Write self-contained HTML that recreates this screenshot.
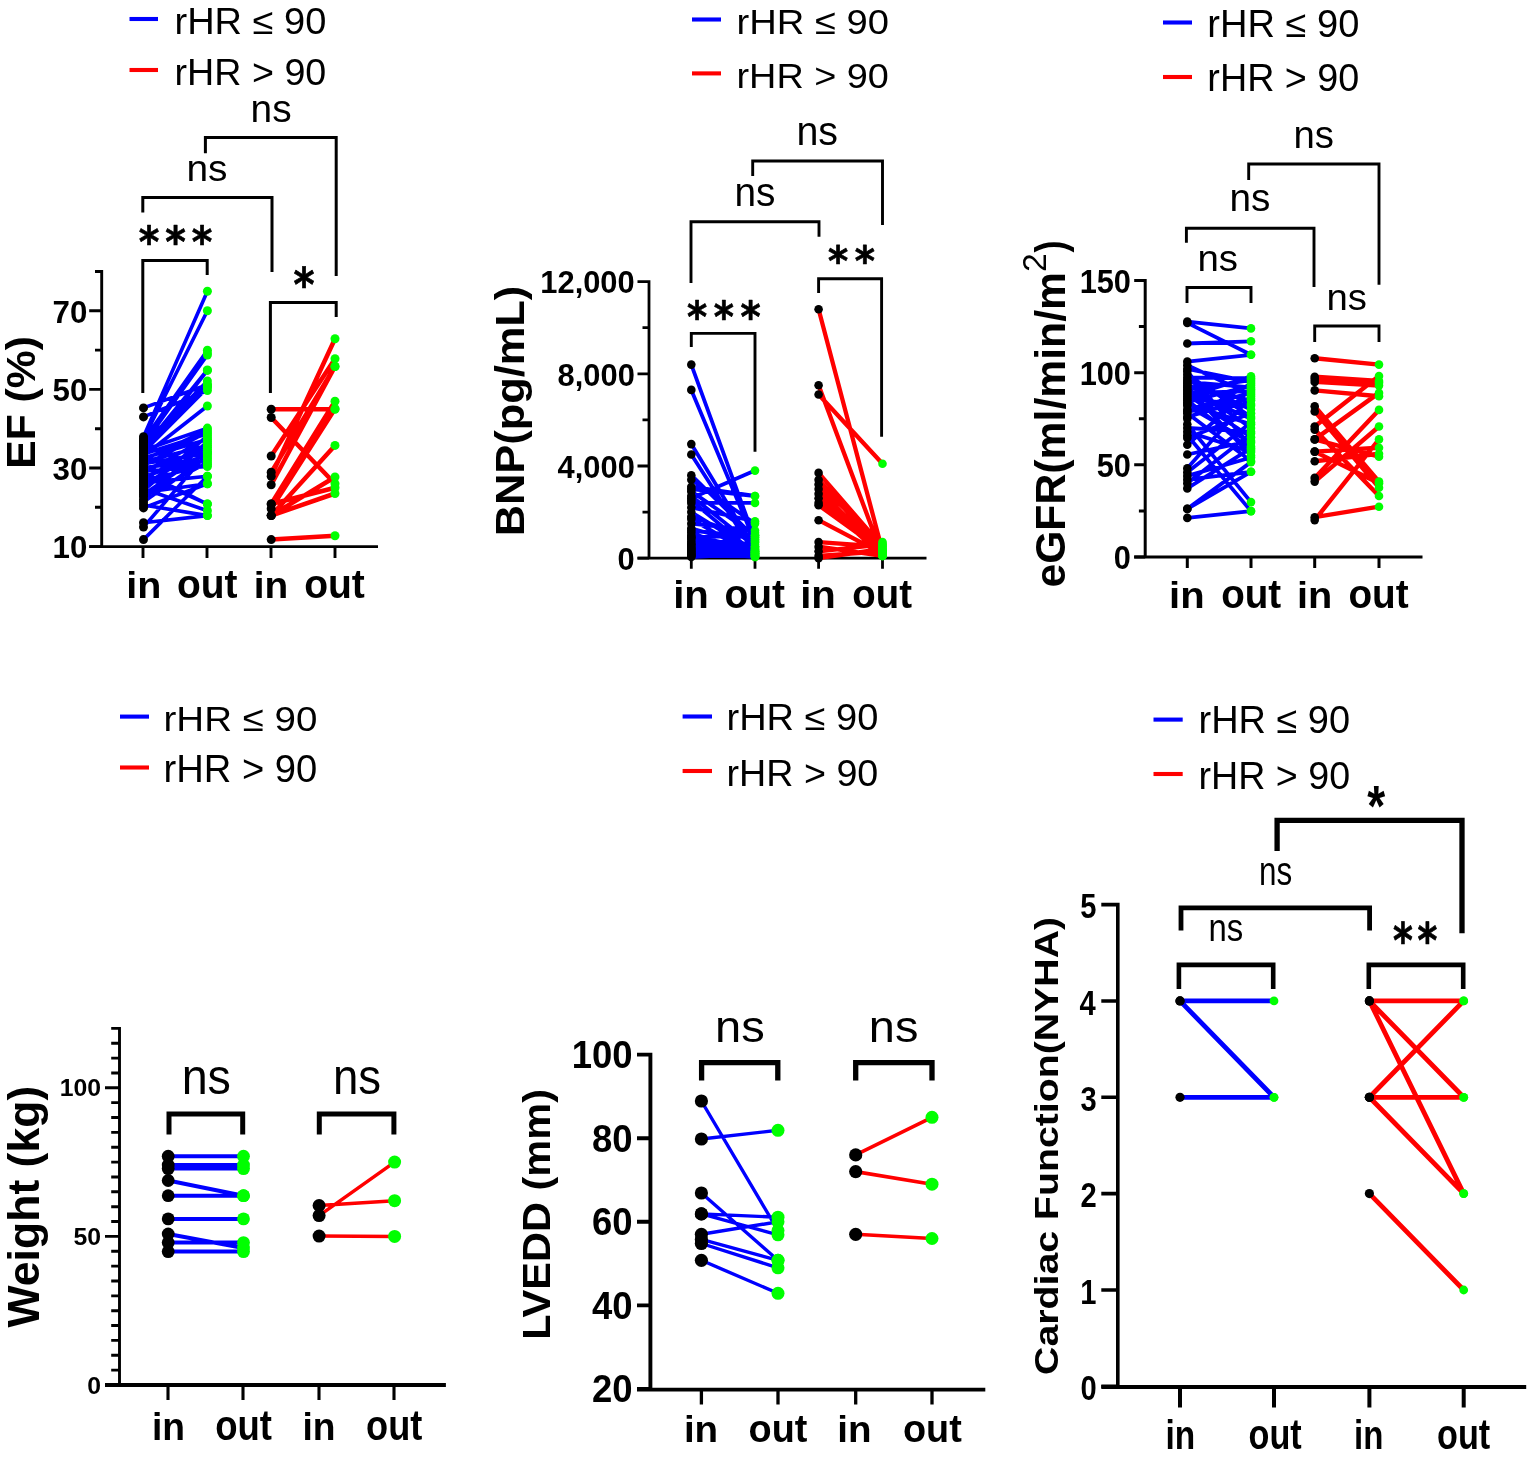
<!DOCTYPE html>
<html><head><meta charset="utf-8"><title>Figure</title>
<style>html,body{margin:0;padding:0;background:#fff;}svg{display:block;}</style>
</head><body><div id="fig">
<svg width="1535" height="1457" viewBox="0 0 1535 1457">
<rect width="1535" height="1457" fill="#fff"/>
<path d="M129.5,19H158" fill="none" stroke="#0000ff" stroke-width="4.1" stroke-linecap="butt" stroke-linejoin="miter"/>
<path d="M129.5,70H158" fill="none" stroke="#ff0000" stroke-width="4.1" stroke-linecap="butt" stroke-linejoin="miter"/>
<text x="174.53" y="33.63" font-family='"Liberation Sans", Arial, sans-serif' font-weight="normal" font-size="36.62" textLength="151.77" lengthAdjust="spacingAndGlyphs">rHR ≤ 90</text>
<text x="174.55" y="84.63" font-family='"Liberation Sans", Arial, sans-serif' font-weight="normal" font-size="36.62" textLength="151.74" lengthAdjust="spacingAndGlyphs">rHR &gt; 90</text>
<path d="M101.7,270.05V546.6M89.2,546.6H101.7M95.0,507.3H101.7M89.2,468.0H101.7M95.0,428.70000000000005H101.7M89.2,389.4H101.7M95.0,350.1H101.7M89.2,310.8H101.7M95.0,271.5H101.7" fill="none" stroke="#000" stroke-width="2.9" stroke-linecap="butt" stroke-linejoin="miter"/>
<path d="M89.2,546.6H378" fill="none" stroke="#000" stroke-width="2.9" stroke-linecap="butt" stroke-linejoin="miter"/>
<path d="M143,546.6V558M207,546.6V558M271,546.6V558M335,546.6V558" fill="none" stroke="#000" stroke-width="2.9" stroke-linecap="butt" stroke-linejoin="miter"/>
<text x="52.62" y="558.38" font-family='"Liberation Sans", Arial, sans-serif' font-weight="bold" font-size="32.25" textLength="34.80" lengthAdjust="spacingAndGlyphs">10</text>
<text x="52.62" y="479.78" font-family='"Liberation Sans", Arial, sans-serif' font-weight="bold" font-size="32.25" textLength="34.80" lengthAdjust="spacingAndGlyphs">30</text>
<text x="52.62" y="401.18" font-family='"Liberation Sans", Arial, sans-serif' font-weight="bold" font-size="32.25" textLength="34.80" lengthAdjust="spacingAndGlyphs">50</text>
<text x="52.62" y="322.58" font-family='"Liberation Sans", Arial, sans-serif' font-weight="bold" font-size="32.25" textLength="34.80" lengthAdjust="spacingAndGlyphs">70</text>
<text transform="rotate(-90)" x="-468.77" y="35.47" font-family='"Liberation Sans", Arial, sans-serif' font-weight="bold" font-size="40.64" textLength="132.73" lengthAdjust="spacingAndGlyphs">EF (%)</text>
<text x="126.24" y="597.50" font-family='"Liberation Sans", Arial, sans-serif' font-weight="bold" font-size="37.79" textLength="35.08" lengthAdjust="spacingAndGlyphs">in</text>
<text x="177.04" y="597.50" font-family='"Liberation Sans", Arial, sans-serif' font-weight="bold" font-size="39.85" textLength="60.53" lengthAdjust="spacingAndGlyphs">out</text>
<text x="253.78" y="597.50" font-family='"Liberation Sans", Arial, sans-serif' font-weight="bold" font-size="37.79" textLength="34.49" lengthAdjust="spacingAndGlyphs">in</text>
<text x="304.14" y="597.50" font-family='"Liberation Sans", Arial, sans-serif' font-weight="bold" font-size="39.85" textLength="60.74" lengthAdjust="spacingAndGlyphs">out</text>
<path d="M205.4,153.2V137.6H336.2V276" fill="none" stroke="#000" stroke-width="3.0" stroke-linecap="butt" stroke-linejoin="miter"/>
<path d="M142.8,212.5V197.5H272V272" fill="none" stroke="#000" stroke-width="3.0" stroke-linecap="butt" stroke-linejoin="miter"/>
<path d="M142.8,393V260.5H207.2V275" fill="none" stroke="#000" stroke-width="3.0" stroke-linecap="butt" stroke-linejoin="miter"/>
<path d="M270.4,393V302.5H336.2V317" fill="none" stroke="#000" stroke-width="3.0" stroke-linecap="butt" stroke-linejoin="miter"/>
<text x="250.57" y="122.02" font-family='"Liberation Sans", Arial, sans-serif' font-weight="normal" font-size="38.36" textLength="41.03" lengthAdjust="spacingAndGlyphs">ns</text>
<text x="186.47" y="181.02" font-family='"Liberation Sans", Arial, sans-serif' font-weight="normal" font-size="37.64" textLength="41.03" lengthAdjust="spacingAndGlyphs">ns</text>
<text x="138.66" y="256.96" font-family='"DejaVu Sans", sans-serif' font-weight="bold" font-size="42.58" textLength="20.59" lengthAdjust="spacingAndGlyphs" stroke="#000" stroke-width="0.7" stroke-linejoin="round">*</text>
<text x="165.21" y="256.96" font-family='"DejaVu Sans", sans-serif' font-weight="bold" font-size="42.58" textLength="20.59" lengthAdjust="spacingAndGlyphs" stroke="#000" stroke-width="0.7" stroke-linejoin="round">*</text>
<text x="191.76" y="256.96" font-family='"DejaVu Sans", sans-serif' font-weight="bold" font-size="42.58" textLength="20.59" lengthAdjust="spacingAndGlyphs" stroke="#000" stroke-width="0.7" stroke-linejoin="round">*</text>
<text x="293.55" y="301.13" font-family='"DejaVu Sans", sans-serif' font-weight="bold" font-size="45.38" textLength="21.03" lengthAdjust="spacingAndGlyphs" stroke="#000" stroke-width="0.7" stroke-linejoin="round">*</text>
<path d="M143.5,407.9L207.4,384.8M143.5,416.9L207.4,390.6M143.5,436.7L207.4,291.2M143.5,438.7L207.4,310.8M143.5,440.6L207.4,350.2M143.5,442.5L207.4,353.1M143.5,444.4L207.4,355.0M143.5,446.3L207.4,381.0M143.5,448.3L207.4,370.0M143.5,450.2L207.4,428.1M143.5,452.1L207.4,387.7M143.5,454.0L207.4,433.8M143.5,456.0L207.4,406.0M143.5,457.9L207.4,439.6M143.5,459.8L207.4,430.0M143.5,461.7L207.4,445.4M143.5,463.7L207.4,453.1M143.5,465.6L207.4,431.9M143.5,467.5L207.4,460.8M143.5,469.4L207.4,449.2M143.5,471.3L207.4,466.5M143.5,473.3L207.4,437.7M143.5,475.2L207.4,504.0M143.5,477.1L207.4,455.0M143.5,479.0L207.4,443.5M143.5,481.0L207.4,464.6M143.5,482.9L207.4,476.2M143.5,484.8L207.4,447.3M143.5,486.7L207.4,458.8M143.5,488.7L207.4,510.8M143.5,490.6L207.4,435.8M143.5,492.5L207.4,483.8M143.5,494.4L207.4,451.2M143.5,496.3L207.4,462.7M143.5,499.2L207.4,441.5M143.5,502.1L207.4,456.9M143.5,505.0L207.4,515.6M143.5,507.9L207.4,483.8M143.5,522.7L207.4,515.6M143.5,527.1L207.4,453.1M143.5,539.6L207.4,476.2M143.5,441.5L207.4,386.7M143.5,447.3L207.4,384.8M143.5,453.1L207.4,370.4M143.5,472.3L207.4,504.0" fill="none" stroke="#0000ff" stroke-width="3.6" stroke-opacity="1.0" stroke-linecap="round"/>
<circle cx="143.5" cy="407.9" r="4.5" fill="#000"/>
<circle cx="143.5" cy="416.9" r="4.5" fill="#000"/>
<circle cx="143.5" cy="436.7" r="4.5" fill="#000"/>
<circle cx="143.5" cy="438.7" r="4.5" fill="#000"/>
<circle cx="143.5" cy="440.6" r="4.5" fill="#000"/>
<circle cx="143.5" cy="442.5" r="4.5" fill="#000"/>
<circle cx="143.5" cy="444.4" r="4.5" fill="#000"/>
<circle cx="143.5" cy="446.3" r="4.5" fill="#000"/>
<circle cx="143.5" cy="448.3" r="4.5" fill="#000"/>
<circle cx="143.5" cy="450.2" r="4.5" fill="#000"/>
<circle cx="143.5" cy="452.1" r="4.5" fill="#000"/>
<circle cx="143.5" cy="454.0" r="4.5" fill="#000"/>
<circle cx="143.5" cy="456.0" r="4.5" fill="#000"/>
<circle cx="143.5" cy="457.9" r="4.5" fill="#000"/>
<circle cx="143.5" cy="459.8" r="4.5" fill="#000"/>
<circle cx="143.5" cy="461.7" r="4.5" fill="#000"/>
<circle cx="143.5" cy="463.7" r="4.5" fill="#000"/>
<circle cx="143.5" cy="465.6" r="4.5" fill="#000"/>
<circle cx="143.5" cy="467.5" r="4.5" fill="#000"/>
<circle cx="143.5" cy="469.4" r="4.5" fill="#000"/>
<circle cx="143.5" cy="471.3" r="4.5" fill="#000"/>
<circle cx="143.5" cy="473.3" r="4.5" fill="#000"/>
<circle cx="143.5" cy="475.2" r="4.5" fill="#000"/>
<circle cx="143.5" cy="477.1" r="4.5" fill="#000"/>
<circle cx="143.5" cy="479.0" r="4.5" fill="#000"/>
<circle cx="143.5" cy="481.0" r="4.5" fill="#000"/>
<circle cx="143.5" cy="482.9" r="4.5" fill="#000"/>
<circle cx="143.5" cy="484.8" r="4.5" fill="#000"/>
<circle cx="143.5" cy="486.7" r="4.5" fill="#000"/>
<circle cx="143.5" cy="488.7" r="4.5" fill="#000"/>
<circle cx="143.5" cy="490.6" r="4.5" fill="#000"/>
<circle cx="143.5" cy="492.5" r="4.5" fill="#000"/>
<circle cx="143.5" cy="494.4" r="4.5" fill="#000"/>
<circle cx="143.5" cy="496.3" r="4.5" fill="#000"/>
<circle cx="143.5" cy="499.2" r="4.5" fill="#000"/>
<circle cx="143.5" cy="502.1" r="4.5" fill="#000"/>
<circle cx="143.5" cy="505.0" r="4.5" fill="#000"/>
<circle cx="143.5" cy="507.9" r="4.5" fill="#000"/>
<circle cx="143.5" cy="522.7" r="4.5" fill="#000"/>
<circle cx="143.5" cy="527.1" r="4.5" fill="#000"/>
<circle cx="143.5" cy="539.6" r="4.5" fill="#000"/>
<circle cx="143.5" cy="441.5" r="4.5" fill="#000"/>
<circle cx="143.5" cy="447.3" r="4.5" fill="#000"/>
<circle cx="143.5" cy="453.1" r="4.5" fill="#000"/>
<circle cx="143.5" cy="472.3" r="4.5" fill="#000"/>
<circle cx="207.4" cy="384.8" r="4.5" fill="#00ff00"/>
<circle cx="207.4" cy="390.6" r="4.5" fill="#00ff00"/>
<circle cx="207.4" cy="291.2" r="4.5" fill="#00ff00"/>
<circle cx="207.4" cy="310.8" r="4.5" fill="#00ff00"/>
<circle cx="207.4" cy="350.2" r="4.5" fill="#00ff00"/>
<circle cx="207.4" cy="353.1" r="4.5" fill="#00ff00"/>
<circle cx="207.4" cy="355.0" r="4.5" fill="#00ff00"/>
<circle cx="207.4" cy="381.0" r="4.5" fill="#00ff00"/>
<circle cx="207.4" cy="370.0" r="4.5" fill="#00ff00"/>
<circle cx="207.4" cy="428.1" r="4.5" fill="#00ff00"/>
<circle cx="207.4" cy="387.7" r="4.5" fill="#00ff00"/>
<circle cx="207.4" cy="433.8" r="4.5" fill="#00ff00"/>
<circle cx="207.4" cy="406.0" r="4.5" fill="#00ff00"/>
<circle cx="207.4" cy="439.6" r="4.5" fill="#00ff00"/>
<circle cx="207.4" cy="430.0" r="4.5" fill="#00ff00"/>
<circle cx="207.4" cy="445.4" r="4.5" fill="#00ff00"/>
<circle cx="207.4" cy="453.1" r="4.5" fill="#00ff00"/>
<circle cx="207.4" cy="431.9" r="4.5" fill="#00ff00"/>
<circle cx="207.4" cy="460.8" r="4.5" fill="#00ff00"/>
<circle cx="207.4" cy="449.2" r="4.5" fill="#00ff00"/>
<circle cx="207.4" cy="466.5" r="4.5" fill="#00ff00"/>
<circle cx="207.4" cy="437.7" r="4.5" fill="#00ff00"/>
<circle cx="207.4" cy="504.0" r="4.5" fill="#00ff00"/>
<circle cx="207.4" cy="455.0" r="4.5" fill="#00ff00"/>
<circle cx="207.4" cy="443.5" r="4.5" fill="#00ff00"/>
<circle cx="207.4" cy="464.6" r="4.5" fill="#00ff00"/>
<circle cx="207.4" cy="476.2" r="4.5" fill="#00ff00"/>
<circle cx="207.4" cy="447.3" r="4.5" fill="#00ff00"/>
<circle cx="207.4" cy="458.8" r="4.5" fill="#00ff00"/>
<circle cx="207.4" cy="510.8" r="4.5" fill="#00ff00"/>
<circle cx="207.4" cy="435.8" r="4.5" fill="#00ff00"/>
<circle cx="207.4" cy="483.8" r="4.5" fill="#00ff00"/>
<circle cx="207.4" cy="451.2" r="4.5" fill="#00ff00"/>
<circle cx="207.4" cy="462.7" r="4.5" fill="#00ff00"/>
<circle cx="207.4" cy="441.5" r="4.5" fill="#00ff00"/>
<circle cx="207.4" cy="456.9" r="4.5" fill="#00ff00"/>
<circle cx="207.4" cy="515.6" r="4.5" fill="#00ff00"/>
<circle cx="207.4" cy="483.8" r="4.5" fill="#00ff00"/>
<circle cx="207.4" cy="515.6" r="4.5" fill="#00ff00"/>
<circle cx="207.4" cy="453.1" r="4.5" fill="#00ff00"/>
<circle cx="207.4" cy="476.2" r="4.5" fill="#00ff00"/>
<circle cx="207.4" cy="386.7" r="4.5" fill="#00ff00"/>
<circle cx="207.4" cy="384.8" r="4.5" fill="#00ff00"/>
<circle cx="207.4" cy="370.4" r="4.5" fill="#00ff00"/>
<circle cx="207.4" cy="504.0" r="4.5" fill="#00ff00"/>
<path d="M271.2,409.2L335,409.2M271.2,417.5L335,483.8M271.2,456.0L335,358.8M271.2,472.3L335,366.5M271.2,476.2L335,338.7M271.2,484.8L335,366.5M271.2,504.0L335,401.2M271.2,508.8L335,408.8M271.2,515.6L335,445.4M271.2,515.6L335,477.0M271.2,515.6L335,493.5M271.2,504.0L335,487.7M271.2,539.6L335,535.8" fill="none" stroke="#ff0000" stroke-width="4.5" stroke-opacity="1.0" stroke-linecap="round"/>
<circle cx="271.2" cy="409.2" r="4.5" fill="#000"/>
<circle cx="271.2" cy="417.5" r="4.5" fill="#000"/>
<circle cx="271.2" cy="456.0" r="4.5" fill="#000"/>
<circle cx="271.2" cy="472.3" r="4.5" fill="#000"/>
<circle cx="271.2" cy="476.2" r="4.5" fill="#000"/>
<circle cx="271.2" cy="484.8" r="4.5" fill="#000"/>
<circle cx="271.2" cy="504.0" r="4.5" fill="#000"/>
<circle cx="271.2" cy="508.8" r="4.5" fill="#000"/>
<circle cx="271.2" cy="515.6" r="4.5" fill="#000"/>
<circle cx="271.2" cy="515.6" r="4.5" fill="#000"/>
<circle cx="271.2" cy="515.6" r="4.5" fill="#000"/>
<circle cx="271.2" cy="504.0" r="4.5" fill="#000"/>
<circle cx="271.2" cy="539.6" r="4.5" fill="#000"/>
<circle cx="335" cy="409.2" r="4.5" fill="#00ff00"/>
<circle cx="335" cy="483.8" r="4.5" fill="#00ff00"/>
<circle cx="335" cy="358.8" r="4.5" fill="#00ff00"/>
<circle cx="335" cy="366.5" r="4.5" fill="#00ff00"/>
<circle cx="335" cy="338.7" r="4.5" fill="#00ff00"/>
<circle cx="335" cy="366.5" r="4.5" fill="#00ff00"/>
<circle cx="335" cy="401.2" r="4.5" fill="#00ff00"/>
<circle cx="335" cy="408.8" r="4.5" fill="#00ff00"/>
<circle cx="335" cy="445.4" r="4.5" fill="#00ff00"/>
<circle cx="335" cy="477.0" r="4.5" fill="#00ff00"/>
<circle cx="335" cy="493.5" r="4.5" fill="#00ff00"/>
<circle cx="335" cy="487.7" r="4.5" fill="#00ff00"/>
<circle cx="335" cy="535.8" r="4.5" fill="#00ff00"/>
<path d="M692,19.5H721" fill="none" stroke="#0000ff" stroke-width="4.1" stroke-linecap="butt" stroke-linejoin="miter"/>
<path d="M692,73.4H721" fill="none" stroke="#ff0000" stroke-width="4.1" stroke-linecap="butt" stroke-linejoin="miter"/>
<text x="736.52" y="34.14" font-family='"Liberation Sans", Arial, sans-serif' font-weight="normal" font-size="35.92" textLength="152.39" lengthAdjust="spacingAndGlyphs">rHR ≤ 90</text>
<text x="736.54" y="88.04" font-family='"Liberation Sans", Arial, sans-serif' font-weight="normal" font-size="35.77" textLength="152.36" lengthAdjust="spacingAndGlyphs">rHR &gt; 90</text>
<path d="M649.0,280.20000000000005V558.2M637.5,558.2H649.0M642.5,512.1H649.0M637.5,466.00000000000006H649.0M642.5,419.90000000000003H649.0M637.5,373.80000000000007H649.0M642.5,327.70000000000005H649.0M637.5,281.6H649.0" fill="none" stroke="#000" stroke-width="2.8" stroke-linecap="butt" stroke-linejoin="miter"/>
<path d="M637.5,558.2H926.5" fill="none" stroke="#000" stroke-width="2.8" stroke-linecap="butt" stroke-linejoin="miter"/>
<path d="M691.3,558.2V568.7M755,558.2V568.7M818.6,558.2V568.7M882.5,558.2V568.7" fill="none" stroke="#000" stroke-width="2.8" stroke-linecap="butt" stroke-linejoin="miter"/>
<text x="540.35" y="293.34" font-family='"Liberation Sans", Arial, sans-serif' font-weight="bold" font-size="30.85" textLength="94.34" lengthAdjust="spacingAndGlyphs">12,000</text>
<text x="557.62" y="385.54" font-family='"Liberation Sans", Arial, sans-serif' font-weight="bold" font-size="30.85" textLength="77.19" lengthAdjust="spacingAndGlyphs">8,000</text>
<text x="557.62" y="477.74" font-family='"Liberation Sans", Arial, sans-serif' font-weight="bold" font-size="30.85" textLength="77.19" lengthAdjust="spacingAndGlyphs">4,000</text>
<text x="617.61" y="569.94" font-family='"Liberation Sans", Arial, sans-serif' font-weight="bold" font-size="30.85" textLength="17.16" lengthAdjust="spacingAndGlyphs">0</text>
<text transform="rotate(-90)" x="-536.32" y="524.12" font-family='"Liberation Sans", Arial, sans-serif' font-weight="bold" font-size="40.86" textLength="250.46" lengthAdjust="spacingAndGlyphs">BNP(pg/mL)</text>
<text x="673.19" y="608.10" font-family='"Liberation Sans", Arial, sans-serif' font-weight="bold" font-size="38.07" textLength="35.66" lengthAdjust="spacingAndGlyphs">in</text>
<text x="724.44" y="608.10" font-family='"Liberation Sans", Arial, sans-serif' font-weight="bold" font-size="40.61" textLength="60.53" lengthAdjust="spacingAndGlyphs">out</text>
<text x="800.19" y="608.10" font-family='"Liberation Sans", Arial, sans-serif' font-weight="bold" font-size="38.07" textLength="35.66" lengthAdjust="spacingAndGlyphs">in</text>
<text x="852.37" y="608.10" font-family='"Liberation Sans", Arial, sans-serif' font-weight="bold" font-size="40.61" textLength="59.60" lengthAdjust="spacingAndGlyphs">out</text>
<path d="M752.7,176V161H882.5V225" fill="none" stroke="#000" stroke-width="2.9" stroke-linecap="butt" stroke-linejoin="miter"/>
<path d="M691,283V221.8H819V236.7" fill="none" stroke="#000" stroke-width="2.9" stroke-linecap="butt" stroke-linejoin="miter"/>
<path d="M691.3,347V333.4H755V451.8" fill="none" stroke="#000" stroke-width="2.9" stroke-linecap="butt" stroke-linejoin="miter"/>
<path d="M818.6,293V278.7H881.6V436.8" fill="none" stroke="#000" stroke-width="2.9" stroke-linecap="butt" stroke-linejoin="miter"/>
<text x="796.44" y="144.60" font-family='"Liberation Sans", Arial, sans-serif' font-weight="normal" font-size="40.00" textLength="41.58" lengthAdjust="spacingAndGlyphs">ns</text>
<text x="734.48" y="205.60" font-family='"Liberation Sans", Arial, sans-serif' font-weight="normal" font-size="40.00" textLength="40.92" lengthAdjust="spacingAndGlyphs">ns</text>
<text x="827.98" y="275.35" font-family='"DejaVu Sans", sans-serif' font-weight="bold" font-size="41.08" textLength="20.16" lengthAdjust="spacingAndGlyphs" stroke="#000" stroke-width="0.7" stroke-linejoin="round">*</text>
<text x="854.68" y="275.35" font-family='"DejaVu Sans", sans-serif' font-weight="bold" font-size="41.08" textLength="20.16" lengthAdjust="spacingAndGlyphs" stroke="#000" stroke-width="0.7" stroke-linejoin="round">*</text>
<text x="687.08" y="331.86" font-family='"DejaVu Sans", sans-serif' font-weight="bold" font-size="42.58" textLength="20.16" lengthAdjust="spacingAndGlyphs" stroke="#000" stroke-width="0.7" stroke-linejoin="round">*</text>
<text x="713.78" y="331.86" font-family='"DejaVu Sans", sans-serif' font-weight="bold" font-size="42.58" textLength="20.16" lengthAdjust="spacingAndGlyphs" stroke="#000" stroke-width="0.7" stroke-linejoin="round">*</text>
<text x="740.48" y="331.86" font-family='"DejaVu Sans", sans-serif' font-weight="bold" font-size="42.58" textLength="20.16" lengthAdjust="spacingAndGlyphs" stroke="#000" stroke-width="0.7" stroke-linejoin="round">*</text>
<path d="M691.3,364.6L755,539.8M691.3,389.9L755,542.1M691.3,444.1L755,549.0M691.3,454.5L755,553.6M691.3,475.2L755,537.5M691.3,486.7L755,496.0M691.3,491.4L755,535.2M691.3,498.3L755,470.6M691.3,489.1L755,496.0M691.3,502.9L755,502.9M691.3,507.5L755,521.3M691.3,512.1L755,551.3M691.3,516.7L755,539.8M691.3,523.6L755,530.5M691.3,528.2L755,546.7M691.3,532.8L755,555.9M691.3,537.5L755,535.2M691.3,539.8L755,551.3M691.3,542.1L755,544.4M691.3,544.4L755,553.6M691.3,546.7L755,549.0M691.3,549.0L755,555.9M691.3,551.3L755,542.1M691.3,552.4L755,557.0M691.3,553.6L755,551.3M691.3,554.7L755,554.7M691.3,555.9L755,556.4M691.3,557.0L755,553.6M691.3,519.0L755,555.9M691.3,496.0L755,546.7M691.3,530.5L755,537.5M691.3,550.1L755,532.8M691.3,479.8L755,523.6M691.3,500.6L755,553.6M691.3,535.2L755,550.1M691.3,544.4L755,557.0M691.3,547.8L755,552.4M691.3,554.7L755,546.7M691.3,537.5L755,554.7" fill="none" stroke="#0000ff" stroke-width="3.8" stroke-opacity="1.0" stroke-linecap="round"/>
<circle cx="691.3" cy="364.6" r="4.3" fill="#000"/>
<circle cx="691.3" cy="389.9" r="4.3" fill="#000"/>
<circle cx="691.3" cy="444.1" r="4.3" fill="#000"/>
<circle cx="691.3" cy="454.5" r="4.3" fill="#000"/>
<circle cx="691.3" cy="475.2" r="4.3" fill="#000"/>
<circle cx="691.3" cy="486.7" r="4.3" fill="#000"/>
<circle cx="691.3" cy="491.4" r="4.3" fill="#000"/>
<circle cx="691.3" cy="498.3" r="4.3" fill="#000"/>
<circle cx="691.3" cy="489.1" r="4.3" fill="#000"/>
<circle cx="691.3" cy="502.9" r="4.3" fill="#000"/>
<circle cx="691.3" cy="507.5" r="4.3" fill="#000"/>
<circle cx="691.3" cy="512.1" r="4.3" fill="#000"/>
<circle cx="691.3" cy="516.7" r="4.3" fill="#000"/>
<circle cx="691.3" cy="523.6" r="4.3" fill="#000"/>
<circle cx="691.3" cy="528.2" r="4.3" fill="#000"/>
<circle cx="691.3" cy="532.8" r="4.3" fill="#000"/>
<circle cx="691.3" cy="537.5" r="4.3" fill="#000"/>
<circle cx="691.3" cy="539.8" r="4.3" fill="#000"/>
<circle cx="691.3" cy="542.1" r="4.3" fill="#000"/>
<circle cx="691.3" cy="544.4" r="4.3" fill="#000"/>
<circle cx="691.3" cy="546.7" r="4.3" fill="#000"/>
<circle cx="691.3" cy="549.0" r="4.3" fill="#000"/>
<circle cx="691.3" cy="551.3" r="4.3" fill="#000"/>
<circle cx="691.3" cy="552.4" r="4.3" fill="#000"/>
<circle cx="691.3" cy="553.6" r="4.3" fill="#000"/>
<circle cx="691.3" cy="554.7" r="4.3" fill="#000"/>
<circle cx="691.3" cy="555.9" r="4.3" fill="#000"/>
<circle cx="691.3" cy="557.0" r="4.3" fill="#000"/>
<circle cx="691.3" cy="519.0" r="4.3" fill="#000"/>
<circle cx="691.3" cy="496.0" r="4.3" fill="#000"/>
<circle cx="691.3" cy="530.5" r="4.3" fill="#000"/>
<circle cx="691.3" cy="550.1" r="4.3" fill="#000"/>
<circle cx="691.3" cy="479.8" r="4.3" fill="#000"/>
<circle cx="691.3" cy="500.6" r="4.3" fill="#000"/>
<circle cx="691.3" cy="535.2" r="4.3" fill="#000"/>
<circle cx="691.3" cy="544.4" r="4.3" fill="#000"/>
<circle cx="691.3" cy="547.8" r="4.3" fill="#000"/>
<circle cx="691.3" cy="554.7" r="4.3" fill="#000"/>
<circle cx="691.3" cy="537.5" r="4.3" fill="#000"/>
<circle cx="755" cy="539.8" r="4.3" fill="#00ff00"/>
<circle cx="755" cy="542.1" r="4.3" fill="#00ff00"/>
<circle cx="755" cy="549.0" r="4.3" fill="#00ff00"/>
<circle cx="755" cy="553.6" r="4.3" fill="#00ff00"/>
<circle cx="755" cy="537.5" r="4.3" fill="#00ff00"/>
<circle cx="755" cy="496.0" r="4.3" fill="#00ff00"/>
<circle cx="755" cy="535.2" r="4.3" fill="#00ff00"/>
<circle cx="755" cy="470.6" r="4.3" fill="#00ff00"/>
<circle cx="755" cy="496.0" r="4.3" fill="#00ff00"/>
<circle cx="755" cy="502.9" r="4.3" fill="#00ff00"/>
<circle cx="755" cy="521.3" r="4.3" fill="#00ff00"/>
<circle cx="755" cy="551.3" r="4.3" fill="#00ff00"/>
<circle cx="755" cy="539.8" r="4.3" fill="#00ff00"/>
<circle cx="755" cy="530.5" r="4.3" fill="#00ff00"/>
<circle cx="755" cy="546.7" r="4.3" fill="#00ff00"/>
<circle cx="755" cy="555.9" r="4.3" fill="#00ff00"/>
<circle cx="755" cy="535.2" r="4.3" fill="#00ff00"/>
<circle cx="755" cy="551.3" r="4.3" fill="#00ff00"/>
<circle cx="755" cy="544.4" r="4.3" fill="#00ff00"/>
<circle cx="755" cy="553.6" r="4.3" fill="#00ff00"/>
<circle cx="755" cy="549.0" r="4.3" fill="#00ff00"/>
<circle cx="755" cy="555.9" r="4.3" fill="#00ff00"/>
<circle cx="755" cy="542.1" r="4.3" fill="#00ff00"/>
<circle cx="755" cy="557.0" r="4.3" fill="#00ff00"/>
<circle cx="755" cy="551.3" r="4.3" fill="#00ff00"/>
<circle cx="755" cy="554.7" r="4.3" fill="#00ff00"/>
<circle cx="755" cy="556.4" r="4.3" fill="#00ff00"/>
<circle cx="755" cy="553.6" r="4.3" fill="#00ff00"/>
<circle cx="755" cy="555.9" r="4.3" fill="#00ff00"/>
<circle cx="755" cy="546.7" r="4.3" fill="#00ff00"/>
<circle cx="755" cy="537.5" r="4.3" fill="#00ff00"/>
<circle cx="755" cy="532.8" r="4.3" fill="#00ff00"/>
<circle cx="755" cy="523.6" r="4.3" fill="#00ff00"/>
<circle cx="755" cy="553.6" r="4.3" fill="#00ff00"/>
<circle cx="755" cy="550.1" r="4.3" fill="#00ff00"/>
<circle cx="755" cy="557.0" r="4.3" fill="#00ff00"/>
<circle cx="755" cy="552.4" r="4.3" fill="#00ff00"/>
<circle cx="755" cy="546.7" r="4.3" fill="#00ff00"/>
<circle cx="755" cy="554.7" r="4.3" fill="#00ff00"/>
<path d="M818.6,309.3L882.5,551.3M818.6,385.3L882.5,555.9M818.6,394.5L882.5,463.7M818.6,472.9L882.5,546.7M818.6,479.8L882.5,551.3M818.6,484.4L882.5,544.4M818.6,489.1L882.5,553.6M818.6,493.7L882.5,549.0M818.6,498.3L882.5,555.9M818.6,502.9L882.5,542.1M818.6,505.2L882.5,551.3M818.6,520.2L882.5,553.6M818.6,542.1L882.5,546.7M818.6,546.7L882.5,555.9M818.6,551.3L882.5,544.4M818.6,555.9L882.5,551.3M818.6,558.2L882.5,549.0" fill="none" stroke="#ff0000" stroke-width="4.3" stroke-opacity="1.0" stroke-linecap="round"/>
<circle cx="818.6" cy="309.3" r="4.3" fill="#000"/>
<circle cx="818.6" cy="385.3" r="4.3" fill="#000"/>
<circle cx="818.6" cy="394.5" r="4.3" fill="#000"/>
<circle cx="818.6" cy="472.9" r="4.3" fill="#000"/>
<circle cx="818.6" cy="479.8" r="4.3" fill="#000"/>
<circle cx="818.6" cy="484.4" r="4.3" fill="#000"/>
<circle cx="818.6" cy="489.1" r="4.3" fill="#000"/>
<circle cx="818.6" cy="493.7" r="4.3" fill="#000"/>
<circle cx="818.6" cy="498.3" r="4.3" fill="#000"/>
<circle cx="818.6" cy="502.9" r="4.3" fill="#000"/>
<circle cx="818.6" cy="505.2" r="4.3" fill="#000"/>
<circle cx="818.6" cy="520.2" r="4.3" fill="#000"/>
<circle cx="818.6" cy="542.1" r="4.3" fill="#000"/>
<circle cx="818.6" cy="546.7" r="4.3" fill="#000"/>
<circle cx="818.6" cy="551.3" r="4.3" fill="#000"/>
<circle cx="818.6" cy="555.9" r="4.3" fill="#000"/>
<circle cx="818.6" cy="558.2" r="4.3" fill="#000"/>
<circle cx="882.5" cy="551.3" r="4.3" fill="#00ff00"/>
<circle cx="882.5" cy="555.9" r="4.3" fill="#00ff00"/>
<circle cx="882.5" cy="463.7" r="4.3" fill="#00ff00"/>
<circle cx="882.5" cy="546.7" r="4.3" fill="#00ff00"/>
<circle cx="882.5" cy="551.3" r="4.3" fill="#00ff00"/>
<circle cx="882.5" cy="544.4" r="4.3" fill="#00ff00"/>
<circle cx="882.5" cy="553.6" r="4.3" fill="#00ff00"/>
<circle cx="882.5" cy="549.0" r="4.3" fill="#00ff00"/>
<circle cx="882.5" cy="555.9" r="4.3" fill="#00ff00"/>
<circle cx="882.5" cy="542.1" r="4.3" fill="#00ff00"/>
<circle cx="882.5" cy="551.3" r="4.3" fill="#00ff00"/>
<circle cx="882.5" cy="553.6" r="4.3" fill="#00ff00"/>
<circle cx="882.5" cy="546.7" r="4.3" fill="#00ff00"/>
<circle cx="882.5" cy="555.9" r="4.3" fill="#00ff00"/>
<circle cx="882.5" cy="544.4" r="4.3" fill="#00ff00"/>
<circle cx="882.5" cy="551.3" r="4.3" fill="#00ff00"/>
<circle cx="882.5" cy="549.0" r="4.3" fill="#00ff00"/>
<path d="M1163,22.5H1192" fill="none" stroke="#0000ff" stroke-width="4.1" stroke-linecap="butt" stroke-linejoin="miter"/>
<path d="M1163,77H1192" fill="none" stroke="#ff0000" stroke-width="4.1" stroke-linecap="butt" stroke-linejoin="miter"/>
<text x="1207.33" y="37.12" font-family='"Liberation Sans", Arial, sans-serif' font-weight="normal" font-size="38.03" textLength="151.98" lengthAdjust="spacingAndGlyphs">rHR ≤ 90</text>
<text x="1207.35" y="91.01" font-family='"Liberation Sans", Arial, sans-serif' font-weight="normal" font-size="38.59" textLength="151.95" lengthAdjust="spacingAndGlyphs">rHR &gt; 90</text>
<path d="M1145.2,279.005V557M1134.2,557.0H1145.2M1138.9,510.9175H1145.2M1134.2,464.83500000000004H1145.2M1138.9,418.7525H1145.2M1134.2,372.67H1145.2M1138.9,326.5875H1145.2M1134.2,280.505H1145.2" fill="none" stroke="#000" stroke-width="3" stroke-linecap="butt" stroke-linejoin="miter"/>
<path d="M1134.2,557H1422.5" fill="none" stroke="#000" stroke-width="3" stroke-linecap="butt" stroke-linejoin="miter"/>
<path d="M1187.3,557V568M1251,557V568M1314.7,557V568M1379,557V568" fill="none" stroke="#000" stroke-width="3" stroke-linecap="butt" stroke-linejoin="miter"/>
<text x="1079.69" y="292.58" font-family='"Liberation Sans", Arial, sans-serif' font-weight="bold" font-size="32.68" textLength="51.25" lengthAdjust="spacingAndGlyphs">150</text>
<text x="1079.69" y="384.74" font-family='"Liberation Sans", Arial, sans-serif' font-weight="bold" font-size="32.68" textLength="51.25" lengthAdjust="spacingAndGlyphs">100</text>
<text x="1096.73" y="476.91" font-family='"Liberation Sans", Arial, sans-serif' font-weight="bold" font-size="32.68" textLength="34.17" lengthAdjust="spacingAndGlyphs">50</text>
<text x="1113.78" y="569.07" font-family='"Liberation Sans", Arial, sans-serif' font-weight="bold" font-size="32.68" textLength="17.08" lengthAdjust="spacingAndGlyphs">0</text>
<text x="1169.10" y="607.60" font-family='"Liberation Sans", Arial, sans-serif' font-weight="bold" font-size="37.38" textLength="35.55" lengthAdjust="spacingAndGlyphs">in</text>
<text x="1221.16" y="607.60" font-family='"Liberation Sans", Arial, sans-serif' font-weight="bold" font-size="39.85" textLength="60.01" lengthAdjust="spacingAndGlyphs">out</text>
<text x="1296.92" y="607.60" font-family='"Liberation Sans", Arial, sans-serif' font-weight="bold" font-size="37.38" textLength="35.31" lengthAdjust="spacingAndGlyphs">in</text>
<text x="1348.45" y="607.60" font-family='"Liberation Sans", Arial, sans-serif' font-weight="bold" font-size="39.85" textLength="60.22" lengthAdjust="spacingAndGlyphs">out</text>
<path d="M1248.7,180V164H1379V284.7" fill="none" stroke="#000" stroke-width="2.9" stroke-linecap="butt" stroke-linejoin="miter"/>
<path d="M1186.4,242.7V228.3H1314V287" fill="none" stroke="#000" stroke-width="2.9" stroke-linecap="butt" stroke-linejoin="miter"/>
<path d="M1187,303V287.5H1251V303" fill="none" stroke="#000" stroke-width="2.9" stroke-linecap="butt" stroke-linejoin="miter"/>
<path d="M1314.7,342V326H1379V342" fill="none" stroke="#000" stroke-width="2.9" stroke-linecap="butt" stroke-linejoin="miter"/>
<text x="1293.51" y="147.62" font-family='"Liberation Sans", Arial, sans-serif' font-weight="normal" font-size="38.18" textLength="40.48" lengthAdjust="spacingAndGlyphs">ns</text>
<text x="1229.48" y="210.62" font-family='"Liberation Sans", Arial, sans-serif' font-weight="normal" font-size="38.18" textLength="40.92" lengthAdjust="spacingAndGlyphs">ns</text>
<text x="1197.50" y="270.64" font-family='"Liberation Sans", Arial, sans-serif' font-weight="normal" font-size="36.36" textLength="40.59" lengthAdjust="spacingAndGlyphs">ns</text>
<text x="1326.51" y="309.64" font-family='"Liberation Sans", Arial, sans-serif' font-weight="normal" font-size="36.36" textLength="40.48" lengthAdjust="spacingAndGlyphs">ns</text>
<text transform="rotate(-90)" x="-587.61" y="1064.76" font-family='"Liberation Sans", Arial, sans-serif' font-weight="bold" font-size="42.57" textLength="315.65" lengthAdjust="spacingAndGlyphs">eGFR(ml/min/m</text>
<text transform="rotate(-90)" x="-272.09" y="1046.00" font-family='"Liberation Sans", Arial, sans-serif' font-weight="normal" font-size="33.14" textLength="18.82" lengthAdjust="spacingAndGlyphs">2</text>
<text transform="rotate(-90)" x="-252.40" y="1064.79" font-family='"Liberation Sans", Arial, sans-serif' font-weight="bold" font-size="42.89" textLength="12.15" lengthAdjust="spacingAndGlyphs">)</text>
<path d="M1187.3,321.6L1251,328.4M1187.3,322.9L1251,354.8M1187.3,343.5L1251,341.3M1187.3,361.6L1251,354.8M1187.3,365.3L1251,394.8M1187.3,369.0L1251,381.9M1187.3,371.4L1251,446.4M1187.3,377.5L1251,378.2M1187.3,380.0L1251,409.5M1187.3,381.9L1251,387.4M1187.3,383.7L1251,428.0M1187.3,385.6L1251,400.3M1187.3,387.4L1251,455.6M1187.3,389.3L1251,380.0M1187.3,391.1L1251,418.8M1187.3,392.9L1251,391.1M1187.3,394.8L1251,437.2M1187.3,396.6L1251,376.4M1187.3,398.5L1251,405.8M1187.3,400.3L1251,450.1M1187.3,402.2L1251,385.6M1187.3,404.0L1251,424.3M1187.3,405.8L1251,442.7M1187.3,409.5L1251,392.9M1187.3,413.2L1251,461.1M1187.3,416.9L1251,398.5M1187.3,424.3L1251,502.1M1187.3,428.0L1251,431.7M1187.3,431.7L1251,451.9M1187.3,435.3L1251,511.1M1187.3,437.9L1251,413.2M1187.3,444.7L1251,389.3M1187.3,454.5L1251,440.9M1187.3,468.2L1251,396.6M1187.3,472.2L1251,422.4M1187.3,475.9L1251,457.5M1187.3,479.6L1251,471.8M1187.3,483.3L1251,433.5M1187.3,488.4L1251,448.2M1187.3,508.9L1251,462.1M1187.3,517.9L1251,511.1M1187.3,508.9L1251,471.8M1187.3,418.8L1251,383.7M1187.3,411.4L1251,404.0M1187.3,374.5L1251,416.9" fill="none" stroke="#0000ff" stroke-width="3.8" stroke-opacity="1.0" stroke-linecap="round"/>
<circle cx="1187.3" cy="321.6" r="4.3" fill="#000"/>
<circle cx="1187.3" cy="322.9" r="4.3" fill="#000"/>
<circle cx="1187.3" cy="343.5" r="4.3" fill="#000"/>
<circle cx="1187.3" cy="361.6" r="4.3" fill="#000"/>
<circle cx="1187.3" cy="365.3" r="4.3" fill="#000"/>
<circle cx="1187.3" cy="369.0" r="4.3" fill="#000"/>
<circle cx="1187.3" cy="371.4" r="4.3" fill="#000"/>
<circle cx="1187.3" cy="377.5" r="4.3" fill="#000"/>
<circle cx="1187.3" cy="380.0" r="4.3" fill="#000"/>
<circle cx="1187.3" cy="381.9" r="4.3" fill="#000"/>
<circle cx="1187.3" cy="383.7" r="4.3" fill="#000"/>
<circle cx="1187.3" cy="385.6" r="4.3" fill="#000"/>
<circle cx="1187.3" cy="387.4" r="4.3" fill="#000"/>
<circle cx="1187.3" cy="389.3" r="4.3" fill="#000"/>
<circle cx="1187.3" cy="391.1" r="4.3" fill="#000"/>
<circle cx="1187.3" cy="392.9" r="4.3" fill="#000"/>
<circle cx="1187.3" cy="394.8" r="4.3" fill="#000"/>
<circle cx="1187.3" cy="396.6" r="4.3" fill="#000"/>
<circle cx="1187.3" cy="398.5" r="4.3" fill="#000"/>
<circle cx="1187.3" cy="400.3" r="4.3" fill="#000"/>
<circle cx="1187.3" cy="402.2" r="4.3" fill="#000"/>
<circle cx="1187.3" cy="404.0" r="4.3" fill="#000"/>
<circle cx="1187.3" cy="405.8" r="4.3" fill="#000"/>
<circle cx="1187.3" cy="409.5" r="4.3" fill="#000"/>
<circle cx="1187.3" cy="413.2" r="4.3" fill="#000"/>
<circle cx="1187.3" cy="416.9" r="4.3" fill="#000"/>
<circle cx="1187.3" cy="424.3" r="4.3" fill="#000"/>
<circle cx="1187.3" cy="428.0" r="4.3" fill="#000"/>
<circle cx="1187.3" cy="431.7" r="4.3" fill="#000"/>
<circle cx="1187.3" cy="435.3" r="4.3" fill="#000"/>
<circle cx="1187.3" cy="437.9" r="4.3" fill="#000"/>
<circle cx="1187.3" cy="444.7" r="4.3" fill="#000"/>
<circle cx="1187.3" cy="454.5" r="4.3" fill="#000"/>
<circle cx="1187.3" cy="468.2" r="4.3" fill="#000"/>
<circle cx="1187.3" cy="472.2" r="4.3" fill="#000"/>
<circle cx="1187.3" cy="475.9" r="4.3" fill="#000"/>
<circle cx="1187.3" cy="479.6" r="4.3" fill="#000"/>
<circle cx="1187.3" cy="483.3" r="4.3" fill="#000"/>
<circle cx="1187.3" cy="488.4" r="4.3" fill="#000"/>
<circle cx="1187.3" cy="508.9" r="4.3" fill="#000"/>
<circle cx="1187.3" cy="517.9" r="4.3" fill="#000"/>
<circle cx="1187.3" cy="508.9" r="4.3" fill="#000"/>
<circle cx="1187.3" cy="418.8" r="4.3" fill="#000"/>
<circle cx="1187.3" cy="411.4" r="4.3" fill="#000"/>
<circle cx="1187.3" cy="374.5" r="4.3" fill="#000"/>
<circle cx="1251" cy="328.4" r="4.3" fill="#00ff00"/>
<circle cx="1251" cy="354.8" r="4.3" fill="#00ff00"/>
<circle cx="1251" cy="341.3" r="4.3" fill="#00ff00"/>
<circle cx="1251" cy="354.8" r="4.3" fill="#00ff00"/>
<circle cx="1251" cy="394.8" r="4.3" fill="#00ff00"/>
<circle cx="1251" cy="381.9" r="4.3" fill="#00ff00"/>
<circle cx="1251" cy="446.4" r="4.3" fill="#00ff00"/>
<circle cx="1251" cy="378.2" r="4.3" fill="#00ff00"/>
<circle cx="1251" cy="409.5" r="4.3" fill="#00ff00"/>
<circle cx="1251" cy="387.4" r="4.3" fill="#00ff00"/>
<circle cx="1251" cy="428.0" r="4.3" fill="#00ff00"/>
<circle cx="1251" cy="400.3" r="4.3" fill="#00ff00"/>
<circle cx="1251" cy="455.6" r="4.3" fill="#00ff00"/>
<circle cx="1251" cy="380.0" r="4.3" fill="#00ff00"/>
<circle cx="1251" cy="418.8" r="4.3" fill="#00ff00"/>
<circle cx="1251" cy="391.1" r="4.3" fill="#00ff00"/>
<circle cx="1251" cy="437.2" r="4.3" fill="#00ff00"/>
<circle cx="1251" cy="376.4" r="4.3" fill="#00ff00"/>
<circle cx="1251" cy="405.8" r="4.3" fill="#00ff00"/>
<circle cx="1251" cy="450.1" r="4.3" fill="#00ff00"/>
<circle cx="1251" cy="385.6" r="4.3" fill="#00ff00"/>
<circle cx="1251" cy="424.3" r="4.3" fill="#00ff00"/>
<circle cx="1251" cy="442.7" r="4.3" fill="#00ff00"/>
<circle cx="1251" cy="392.9" r="4.3" fill="#00ff00"/>
<circle cx="1251" cy="461.1" r="4.3" fill="#00ff00"/>
<circle cx="1251" cy="398.5" r="4.3" fill="#00ff00"/>
<circle cx="1251" cy="502.1" r="4.3" fill="#00ff00"/>
<circle cx="1251" cy="431.7" r="4.3" fill="#00ff00"/>
<circle cx="1251" cy="451.9" r="4.3" fill="#00ff00"/>
<circle cx="1251" cy="511.1" r="4.3" fill="#00ff00"/>
<circle cx="1251" cy="413.2" r="4.3" fill="#00ff00"/>
<circle cx="1251" cy="389.3" r="4.3" fill="#00ff00"/>
<circle cx="1251" cy="440.9" r="4.3" fill="#00ff00"/>
<circle cx="1251" cy="396.6" r="4.3" fill="#00ff00"/>
<circle cx="1251" cy="422.4" r="4.3" fill="#00ff00"/>
<circle cx="1251" cy="457.5" r="4.3" fill="#00ff00"/>
<circle cx="1251" cy="471.8" r="4.3" fill="#00ff00"/>
<circle cx="1251" cy="433.5" r="4.3" fill="#00ff00"/>
<circle cx="1251" cy="448.2" r="4.3" fill="#00ff00"/>
<circle cx="1251" cy="462.1" r="4.3" fill="#00ff00"/>
<circle cx="1251" cy="511.1" r="4.3" fill="#00ff00"/>
<circle cx="1251" cy="471.8" r="4.3" fill="#00ff00"/>
<circle cx="1251" cy="383.7" r="4.3" fill="#00ff00"/>
<circle cx="1251" cy="404.0" r="4.3" fill="#00ff00"/>
<circle cx="1251" cy="416.9" r="4.3" fill="#00ff00"/>
<path d="M1314.7,358.3L1379,364.6M1314.7,376.7L1379,381.0M1314.7,379.1L1379,382.8M1314.7,381.9L1379,385.6M1314.7,390.4L1379,396.3M1314.7,406.2L1379,481.6M1314.7,411.4L1379,487.7M1314.7,426.5L1379,376.0M1314.7,429.6L1379,496.0M1314.7,439.4L1379,392.9M1314.7,451.6L1379,447.7M1314.7,461.3L1379,453.8M1314.7,451.6L1379,483.3M1314.7,439.4L1379,456.7M1314.7,477.9L1379,409.9M1314.7,481.6L1379,426.5M1314.7,517.2L1379,506.7M1314.7,520.1L1379,439.4" fill="none" stroke="#ff0000" stroke-width="4.4" stroke-opacity="1.0" stroke-linecap="round"/>
<circle cx="1314.7" cy="358.3" r="4.3" fill="#000"/>
<circle cx="1314.7" cy="376.7" r="4.3" fill="#000"/>
<circle cx="1314.7" cy="379.1" r="4.3" fill="#000"/>
<circle cx="1314.7" cy="381.9" r="4.3" fill="#000"/>
<circle cx="1314.7" cy="390.4" r="4.3" fill="#000"/>
<circle cx="1314.7" cy="406.2" r="4.3" fill="#000"/>
<circle cx="1314.7" cy="411.4" r="4.3" fill="#000"/>
<circle cx="1314.7" cy="426.5" r="4.3" fill="#000"/>
<circle cx="1314.7" cy="429.6" r="4.3" fill="#000"/>
<circle cx="1314.7" cy="439.4" r="4.3" fill="#000"/>
<circle cx="1314.7" cy="451.6" r="4.3" fill="#000"/>
<circle cx="1314.7" cy="461.3" r="4.3" fill="#000"/>
<circle cx="1314.7" cy="451.6" r="4.3" fill="#000"/>
<circle cx="1314.7" cy="439.4" r="4.3" fill="#000"/>
<circle cx="1314.7" cy="477.9" r="4.3" fill="#000"/>
<circle cx="1314.7" cy="481.6" r="4.3" fill="#000"/>
<circle cx="1314.7" cy="517.2" r="4.3" fill="#000"/>
<circle cx="1314.7" cy="520.1" r="4.3" fill="#000"/>
<circle cx="1379" cy="364.6" r="4.3" fill="#00ff00"/>
<circle cx="1379" cy="381.0" r="4.3" fill="#00ff00"/>
<circle cx="1379" cy="382.8" r="4.3" fill="#00ff00"/>
<circle cx="1379" cy="385.6" r="4.3" fill="#00ff00"/>
<circle cx="1379" cy="396.3" r="4.3" fill="#00ff00"/>
<circle cx="1379" cy="481.6" r="4.3" fill="#00ff00"/>
<circle cx="1379" cy="487.7" r="4.3" fill="#00ff00"/>
<circle cx="1379" cy="376.0" r="4.3" fill="#00ff00"/>
<circle cx="1379" cy="496.0" r="4.3" fill="#00ff00"/>
<circle cx="1379" cy="392.9" r="4.3" fill="#00ff00"/>
<circle cx="1379" cy="447.7" r="4.3" fill="#00ff00"/>
<circle cx="1379" cy="453.8" r="4.3" fill="#00ff00"/>
<circle cx="1379" cy="483.3" r="4.3" fill="#00ff00"/>
<circle cx="1379" cy="456.7" r="4.3" fill="#00ff00"/>
<circle cx="1379" cy="409.9" r="4.3" fill="#00ff00"/>
<circle cx="1379" cy="426.5" r="4.3" fill="#00ff00"/>
<circle cx="1379" cy="506.7" r="4.3" fill="#00ff00"/>
<circle cx="1379" cy="439.4" r="4.3" fill="#00ff00"/>
<path d="M120,716.6H149" fill="none" stroke="#0000ff" stroke-width="4.1" stroke-linecap="butt" stroke-linejoin="miter"/>
<path d="M120,767.5H149" fill="none" stroke="#ff0000" stroke-width="4.1" stroke-linecap="butt" stroke-linejoin="miter"/>
<text x="163.50" y="730.64" font-family='"Liberation Sans", Arial, sans-serif' font-weight="normal" font-size="35.92" textLength="153.82" lengthAdjust="spacingAndGlyphs">rHR ≤ 90</text>
<text x="163.52" y="781.62" font-family='"Liberation Sans", Arial, sans-serif' font-weight="normal" font-size="38.03" textLength="153.79" lengthAdjust="spacingAndGlyphs">rHR &gt; 90</text>
<path d="M119.5,1026.91V1385M105.0,1385.0H119.5M111.2,1370.14H119.5M111.2,1355.28H119.5M111.2,1340.42H119.5M111.2,1325.56H119.5M111.2,1310.7H119.5M111.2,1295.84H119.5M111.2,1280.98H119.5M111.2,1266.12H119.5M111.2,1251.26H119.5M105.0,1236.4H119.5M111.2,1221.54H119.5M111.2,1206.68H119.5M111.2,1191.82H119.5M111.2,1176.96H119.5M111.2,1162.1H119.5M111.2,1147.24H119.5M111.2,1132.38H119.5M111.2,1117.52H119.5M111.2,1102.66H119.5M105.0,1087.8H119.5M111.2,1072.94H119.5M111.2,1058.08H119.5M111.2,1043.22H119.5M111.2,1028.3600000000001H119.5" fill="none" stroke="#000" stroke-width="2.9" stroke-linecap="butt" stroke-linejoin="miter"/>
<path d="M105.0,1385H445.9" fill="none" stroke="#000" stroke-width="4.2" stroke-linecap="butt" stroke-linejoin="miter"/>
<path d="M168,1385V1400M243,1385V1400M319,1385V1400M394,1385V1400" fill="none" stroke="#000" stroke-width="3.1" stroke-linecap="butt" stroke-linejoin="miter"/>
<text x="59.72" y="1096.35" font-family='"Liberation Sans", Arial, sans-serif' font-weight="bold" font-size="24.79" textLength="41.36" lengthAdjust="spacingAndGlyphs">100</text>
<text x="73.48" y="1244.95" font-family='"Liberation Sans", Arial, sans-serif' font-weight="bold" font-size="24.79" textLength="27.57" lengthAdjust="spacingAndGlyphs">50</text>
<text x="87.23" y="1393.55" font-family='"Liberation Sans", Arial, sans-serif' font-weight="bold" font-size="24.79" textLength="13.79" lengthAdjust="spacingAndGlyphs">0</text>
<text transform="rotate(-90)" x="-1327.40" y="38.60" font-family='"Liberation Sans", Arial, sans-serif' font-weight="bold" font-size="44.28" textLength="241.65" lengthAdjust="spacingAndGlyphs">Weight (kg)</text>
<text x="151.99" y="1440.10" font-family='"Liberation Sans", Arial, sans-serif' font-weight="bold" font-size="39.59" textLength="33.09" lengthAdjust="spacingAndGlyphs">in</text>
<text x="215.14" y="1440.10" font-family='"Liberation Sans", Arial, sans-serif' font-weight="bold" font-size="42.44" textLength="56.80" lengthAdjust="spacingAndGlyphs">out</text>
<text x="302.39" y="1440.10" font-family='"Liberation Sans", Arial, sans-serif' font-weight="bold" font-size="39.59" textLength="33.09" lengthAdjust="spacingAndGlyphs">in</text>
<text x="366.05" y="1440.10" font-family='"Liberation Sans", Arial, sans-serif' font-weight="bold" font-size="42.44" textLength="56.28" lengthAdjust="spacingAndGlyphs">out</text>
<path d="M169,1134.6V1114H242.7V1134.6" fill="none" stroke="#000" stroke-width="5" stroke-linecap="butt" stroke-linejoin="miter"/>
<path d="M319.3,1134.6V1114H393.9V1134.6" fill="none" stroke="#000" stroke-width="5" stroke-linecap="butt" stroke-linejoin="miter"/>
<text x="181.66" y="1093.51" font-family='"Liberation Sans", Arial, sans-serif' font-weight="normal" font-size="49.27" textLength="49.32" lengthAdjust="spacingAndGlyphs">ns</text>
<text x="333.04" y="1093.51" font-family='"Liberation Sans", Arial, sans-serif' font-weight="normal" font-size="49.27" textLength="48.11" lengthAdjust="spacingAndGlyphs">ns</text>
<path d="M168.2,1156.2L243.5,1156.2M168.2,1165.1L243.5,1165.1M168.2,1168.6L243.5,1168.6M168.2,1180.5L243.5,1195.7M168.2,1195.7L243.5,1195.7M168.2,1218.9L243.5,1218.9M168.2,1234.0L243.5,1248.0M168.2,1242.6L243.5,1242.6M168.2,1251.6L243.5,1251.6" fill="none" stroke="#0000ff" stroke-width="4.0" stroke-opacity="1.0" stroke-linecap="round"/>
<circle cx="168.2" cy="1156.2" r="6.4" fill="#000"/>
<circle cx="168.2" cy="1165.1" r="6.4" fill="#000"/>
<circle cx="168.2" cy="1168.6" r="6.4" fill="#000"/>
<circle cx="168.2" cy="1180.5" r="6.4" fill="#000"/>
<circle cx="168.2" cy="1195.7" r="6.4" fill="#000"/>
<circle cx="168.2" cy="1218.9" r="6.4" fill="#000"/>
<circle cx="168.2" cy="1234.0" r="6.4" fill="#000"/>
<circle cx="168.2" cy="1242.6" r="6.4" fill="#000"/>
<circle cx="168.2" cy="1251.6" r="6.4" fill="#000"/>
<circle cx="243.5" cy="1156.2" r="6.4" fill="#00ff00"/>
<circle cx="243.5" cy="1165.1" r="6.4" fill="#00ff00"/>
<circle cx="243.5" cy="1168.6" r="6.4" fill="#00ff00"/>
<circle cx="243.5" cy="1195.7" r="6.4" fill="#00ff00"/>
<circle cx="243.5" cy="1195.7" r="6.4" fill="#00ff00"/>
<circle cx="243.5" cy="1218.9" r="6.4" fill="#00ff00"/>
<circle cx="243.5" cy="1248.0" r="6.4" fill="#00ff00"/>
<circle cx="243.5" cy="1242.6" r="6.4" fill="#00ff00"/>
<circle cx="243.5" cy="1251.6" r="6.4" fill="#00ff00"/>
<path d="M319.1,1215.6L394.6,1162.1M319.1,1205.5L394.6,1200.7M319.1,1236.1L394.6,1236.4" fill="none" stroke="#ff0000" stroke-width="3.5" stroke-opacity="1.0" stroke-linecap="round"/>
<circle cx="319.1" cy="1215.6" r="6.5" fill="#000"/>
<circle cx="319.1" cy="1205.5" r="6.5" fill="#000"/>
<circle cx="319.1" cy="1236.1" r="6.5" fill="#000"/>
<circle cx="394.6" cy="1162.1" r="6.5" fill="#00ff00"/>
<circle cx="394.6" cy="1200.7" r="6.5" fill="#00ff00"/>
<circle cx="394.6" cy="1236.4" r="6.5" fill="#00ff00"/>
<path d="M682.6,716.5H712" fill="none" stroke="#0000ff" stroke-width="4.1" stroke-linecap="butt" stroke-linejoin="miter"/>
<path d="M682.6,771H712" fill="none" stroke="#ff0000" stroke-width="4.1" stroke-linecap="butt" stroke-linejoin="miter"/>
<text x="726.53" y="730.13" font-family='"Liberation Sans", Arial, sans-serif' font-weight="normal" font-size="36.76" textLength="151.77" lengthAdjust="spacingAndGlyphs">rHR ≤ 90</text>
<text x="726.55" y="785.63" font-family='"Liberation Sans", Arial, sans-serif' font-weight="normal" font-size="36.62" textLength="151.74" lengthAdjust="spacingAndGlyphs">rHR &gt; 90</text>
<path d="M650.4,1052.6499999999999V1389.6M637.0,1389.0H650.4M637.0,1305.4H650.4M637.0,1221.8H650.4M637.0,1138.2H650.4M637.0,1054.6H650.4" fill="none" stroke="#000" stroke-width="3.9" stroke-linecap="butt" stroke-linejoin="miter"/>
<path d="M637.0,1389.6H985.3" fill="none" stroke="#000" stroke-width="3.7" stroke-linecap="butt" stroke-linejoin="miter"/>
<path d="M701.4,1389.6V1404.6M778,1389.6V1404.6M855.7,1389.6V1404.6M932,1389.6V1404.6" fill="none" stroke="#000" stroke-width="3.3" stroke-linecap="butt" stroke-linejoin="miter"/>
<text x="571.68" y="1067.92" font-family='"Liberation Sans", Arial, sans-serif' font-weight="bold" font-size="38.03" textLength="60.91" lengthAdjust="spacingAndGlyphs">100</text>
<text x="591.94" y="1151.52" font-family='"Liberation Sans", Arial, sans-serif' font-weight="bold" font-size="38.03" textLength="40.61" lengthAdjust="spacingAndGlyphs">80</text>
<text x="591.94" y="1235.12" font-family='"Liberation Sans", Arial, sans-serif' font-weight="bold" font-size="38.03" textLength="40.61" lengthAdjust="spacingAndGlyphs">60</text>
<text x="591.94" y="1318.72" font-family='"Liberation Sans", Arial, sans-serif' font-weight="bold" font-size="38.03" textLength="40.61" lengthAdjust="spacingAndGlyphs">40</text>
<text x="591.94" y="1402.32" font-family='"Liberation Sans", Arial, sans-serif' font-weight="bold" font-size="38.03" textLength="40.61" lengthAdjust="spacingAndGlyphs">20</text>
<text transform="rotate(-90)" x="-1339.70" y="549.93" font-family='"Liberation Sans", Arial, sans-serif' font-weight="bold" font-size="39.36" textLength="250.66" lengthAdjust="spacingAndGlyphs">LVEDD (mm)</text>
<text x="683.90" y="1442.10" font-family='"Liberation Sans", Arial, sans-serif' font-weight="bold" font-size="37.66" textLength="34.26" lengthAdjust="spacingAndGlyphs">in</text>
<text x="748.59" y="1442.10" font-family='"Liberation Sans", Arial, sans-serif' font-weight="bold" font-size="38.78" textLength="58.77" lengthAdjust="spacingAndGlyphs">out</text>
<text x="837.30" y="1442.10" font-family='"Liberation Sans", Arial, sans-serif' font-weight="bold" font-size="37.66" textLength="34.26" lengthAdjust="spacingAndGlyphs">in</text>
<text x="902.99" y="1442.10" font-family='"Liberation Sans", Arial, sans-serif' font-weight="bold" font-size="38.78" textLength="58.77" lengthAdjust="spacingAndGlyphs">out</text>
<path d="M701.6,1080.6V1062.7H777.8V1080.6" fill="none" stroke="#000" stroke-width="5.3" stroke-linecap="butt" stroke-linejoin="miter"/>
<path d="M855.7,1080.6V1062.7H932V1080.6" fill="none" stroke="#000" stroke-width="5.3" stroke-linecap="butt" stroke-linejoin="miter"/>
<text x="715.14" y="1041.95" font-family='"Liberation Sans", Arial, sans-serif' font-weight="normal" font-size="45.27" textLength="49.66" lengthAdjust="spacingAndGlyphs">ns</text>
<text x="868.85" y="1041.95" font-family='"Liberation Sans", Arial, sans-serif' font-weight="normal" font-size="45.27" textLength="49.55" lengthAdjust="spacingAndGlyphs">ns</text>
<path d="M701.4,1101.0L778,1230.6M701.4,1139.0L778,1130.3M701.4,1193.0L778,1260.3M701.4,1213.9L778,1217.2M701.4,1213.9L778,1234.8M701.4,1234.3L778,1221.8M701.4,1239.4L778,1260.3M701.4,1243.5L778,1267.8M701.4,1260.3L778,1293.3" fill="none" stroke="#0000ff" stroke-width="3.4" stroke-opacity="1.0" stroke-linecap="round"/>
<circle cx="701.4" cy="1101.0" r="6.6" fill="#000"/>
<circle cx="701.4" cy="1139.0" r="6.6" fill="#000"/>
<circle cx="701.4" cy="1193.0" r="6.6" fill="#000"/>
<circle cx="701.4" cy="1213.9" r="6.6" fill="#000"/>
<circle cx="701.4" cy="1213.9" r="6.6" fill="#000"/>
<circle cx="701.4" cy="1234.3" r="6.6" fill="#000"/>
<circle cx="701.4" cy="1239.4" r="6.6" fill="#000"/>
<circle cx="701.4" cy="1243.5" r="6.6" fill="#000"/>
<circle cx="701.4" cy="1260.3" r="6.6" fill="#000"/>
<circle cx="778" cy="1230.6" r="6.5" fill="#00ff00"/>
<circle cx="778" cy="1130.3" r="6.5" fill="#00ff00"/>
<circle cx="778" cy="1260.3" r="6.5" fill="#00ff00"/>
<circle cx="778" cy="1217.2" r="6.5" fill="#00ff00"/>
<circle cx="778" cy="1234.8" r="6.5" fill="#00ff00"/>
<circle cx="778" cy="1221.8" r="6.5" fill="#00ff00"/>
<circle cx="778" cy="1260.3" r="6.5" fill="#00ff00"/>
<circle cx="778" cy="1267.8" r="6.5" fill="#00ff00"/>
<circle cx="778" cy="1293.3" r="6.5" fill="#00ff00"/>
<path d="M855.7,1154.9L932,1117.3M855.7,1171.6L932,1184.2M855.7,1234.3L932,1238.5" fill="none" stroke="#ff0000" stroke-width="3.6" stroke-opacity="1.0" stroke-linecap="round"/>
<circle cx="855.7" cy="1154.9" r="6.6" fill="#000"/>
<circle cx="855.7" cy="1171.6" r="6.6" fill="#000"/>
<circle cx="855.7" cy="1234.3" r="6.6" fill="#000"/>
<circle cx="932" cy="1117.3" r="6.5" fill="#00ff00"/>
<circle cx="932" cy="1184.2" r="6.5" fill="#00ff00"/>
<circle cx="932" cy="1238.5" r="6.5" fill="#00ff00"/>
<path d="M1153.5,719.6H1182.7" fill="none" stroke="#0000ff" stroke-width="4.1" stroke-linecap="butt" stroke-linejoin="miter"/>
<path d="M1153.5,774H1182.7" fill="none" stroke="#ff0000" stroke-width="4.1" stroke-linecap="butt" stroke-linejoin="miter"/>
<text x="1198.53" y="733.32" font-family='"Liberation Sans", Arial, sans-serif' font-weight="normal" font-size="37.89" textLength="151.56" lengthAdjust="spacingAndGlyphs">rHR ≤ 90</text>
<text x="1198.56" y="788.62" font-family='"Liberation Sans", Arial, sans-serif' font-weight="normal" font-size="38.03" textLength="151.54" lengthAdjust="spacingAndGlyphs">rHR &gt; 90</text>
<path d="M1117.8,902.8V1387M1101.3,1386.3H1117.8M1101.3,1289.96H1117.8M1101.3,1193.62H1117.8M1101.3,1097.28H1117.8M1101.3,1000.9399999999999H1117.8M1101.3,904.5999999999999H1117.8" fill="none" stroke="#000" stroke-width="3.6" stroke-linecap="butt" stroke-linejoin="miter"/>
<path d="M1101.3,1387H1526.2" fill="none" stroke="#000" stroke-width="4.2" stroke-linecap="butt" stroke-linejoin="miter"/>
<path d="M1180,1387V1407.5M1274,1387V1407.5M1369.4,1387V1407.5M1463.7,1387V1407.5" fill="none" stroke="#000" stroke-width="4.0" stroke-linecap="butt" stroke-linejoin="miter"/>
<text x="1080.58" y="1400.15" font-family='"Liberation Sans", Arial, sans-serif' font-weight="bold" font-size="34.93" textLength="16.22" lengthAdjust="spacingAndGlyphs">0</text>
<text x="1080.14" y="1303.81" font-family='"Liberation Sans", Arial, sans-serif' font-weight="bold" font-size="34.93" textLength="16.22" lengthAdjust="spacingAndGlyphs">1</text>
<text x="1080.58" y="1207.47" font-family='"Liberation Sans", Arial, sans-serif' font-weight="bold" font-size="34.93" textLength="16.22" lengthAdjust="spacingAndGlyphs">2</text>
<text x="1080.43" y="1111.13" font-family='"Liberation Sans", Arial, sans-serif' font-weight="bold" font-size="34.93" textLength="16.22" lengthAdjust="spacingAndGlyphs">3</text>
<text x="1079.56" y="1014.79" font-family='"Liberation Sans", Arial, sans-serif' font-weight="bold" font-size="34.93" textLength="16.22" lengthAdjust="spacingAndGlyphs">4</text>
<text x="1080.14" y="918.45" font-family='"Liberation Sans", Arial, sans-serif' font-weight="bold" font-size="34.93" textLength="16.22" lengthAdjust="spacingAndGlyphs">5</text>
<text transform="rotate(-90)" x="-1374.97" y="1058.36" font-family='"Liberation Sans", Arial, sans-serif' font-weight="bold" font-size="33.05" textLength="458.03" lengthAdjust="spacingAndGlyphs">Cardiac Function(NYHA)</text>
<text x="1165.46" y="1448.80" font-family='"Liberation Sans", Arial, sans-serif' font-weight="bold" font-size="40.00" textLength="29.70" lengthAdjust="spacingAndGlyphs">in</text>
<text x="1248.53" y="1448.80" font-family='"Liberation Sans", Arial, sans-serif' font-weight="bold" font-size="42.14" textLength="53.17" lengthAdjust="spacingAndGlyphs">out</text>
<text x="1353.99" y="1448.80" font-family='"Liberation Sans", Arial, sans-serif' font-weight="bold" font-size="40.00" textLength="29.35" lengthAdjust="spacingAndGlyphs">in</text>
<text x="1437.03" y="1448.80" font-family='"Liberation Sans", Arial, sans-serif' font-weight="bold" font-size="42.14" textLength="53.17" lengthAdjust="spacingAndGlyphs">out</text>
<path d="M1277.1,850.9V820.3H1462V933.3" fill="none" stroke="#000" stroke-width="5.3" stroke-linecap="butt" stroke-linejoin="miter"/>
<path d="M1181,930.6V907.9H1369.6V930.6" fill="none" stroke="#000" stroke-width="4.8" stroke-linecap="butt" stroke-linejoin="miter"/>
<path d="M1178.9,988.9V964.9H1273.2V988.9" fill="none" stroke="#000" stroke-width="4.6" stroke-linecap="butt" stroke-linejoin="miter"/>
<path d="M1368.8,988.9V964.9H1463.2V988.9" fill="none" stroke="#000" stroke-width="4.6" stroke-linecap="butt" stroke-linejoin="miter"/>
<text x="1367.37" y="825.56" font-family='"Liberation Sans", Arial, sans-serif' font-weight="bold" font-size="56.76" textLength="17.92" lengthAdjust="spacingAndGlyphs">*</text>
<text x="1258.96" y="885.10" font-family='"Liberation Sans", Arial, sans-serif' font-weight="normal" font-size="40.00" textLength="33.18" lengthAdjust="spacingAndGlyphs">ns</text>
<text x="1208.46" y="941.31" font-family='"Liberation Sans", Arial, sans-serif' font-weight="normal" font-size="39.45" textLength="34.73" lengthAdjust="spacingAndGlyphs">ns</text>
<text x="1392.89" y="956.72" font-family='"DejaVu Sans", sans-serif' font-weight="bold" font-size="47.53" textLength="19.83" lengthAdjust="spacingAndGlyphs" stroke="#000" stroke-width="0.7" stroke-linejoin="round">*</text>
<text x="1417.39" y="956.72" font-family='"DejaVu Sans", sans-serif' font-weight="bold" font-size="47.53" textLength="19.83" lengthAdjust="spacingAndGlyphs" stroke="#000" stroke-width="0.7" stroke-linejoin="round">*</text>
<path d="M1180,1000.9L1274,1000.9M1180,1000.9L1274,1097.3M1180,1097.3L1274,1097.3" fill="none" stroke="#0000ff" stroke-width="4.8" stroke-opacity="1.0" stroke-linecap="round"/>
<circle cx="1180" cy="1000.9" r="4.6" fill="#000"/>
<circle cx="1180" cy="1000.9" r="4.6" fill="#000"/>
<circle cx="1180" cy="1097.3" r="4.6" fill="#000"/>
<circle cx="1274" cy="1000.9" r="4.4" fill="#00ff00"/>
<circle cx="1274" cy="1097.3" r="4.4" fill="#00ff00"/>
<circle cx="1274" cy="1097.3" r="4.4" fill="#00ff00"/>
<path d="M1369.4,1000.9L1463.7,1000.9M1369.4,1000.9L1463.7,1097.3M1369.4,1000.9L1463.7,1193.6M1369.4,1097.3L1463.7,1000.9M1369.4,1097.3L1463.7,1097.3M1369.4,1097.3L1463.7,1193.6M1369.4,1193.6L1463.7,1290.0" fill="none" stroke="#ff0000" stroke-width="4.8" stroke-opacity="1.0" stroke-linecap="round"/>
<circle cx="1369.4" cy="1000.9" r="4.6" fill="#000"/>
<circle cx="1369.4" cy="1000.9" r="4.6" fill="#000"/>
<circle cx="1369.4" cy="1000.9" r="4.6" fill="#000"/>
<circle cx="1369.4" cy="1097.3" r="4.6" fill="#000"/>
<circle cx="1369.4" cy="1097.3" r="4.6" fill="#000"/>
<circle cx="1369.4" cy="1097.3" r="4.6" fill="#000"/>
<circle cx="1369.4" cy="1193.6" r="4.6" fill="#000"/>
<circle cx="1463.7" cy="1000.9" r="4.4" fill="#00ff00"/>
<circle cx="1463.7" cy="1097.3" r="4.4" fill="#00ff00"/>
<circle cx="1463.7" cy="1193.6" r="4.4" fill="#00ff00"/>
<circle cx="1463.7" cy="1000.9" r="4.4" fill="#00ff00"/>
<circle cx="1463.7" cy="1097.3" r="4.4" fill="#00ff00"/>
<circle cx="1463.7" cy="1193.6" r="4.4" fill="#00ff00"/>
<circle cx="1463.7" cy="1290.0" r="4.4" fill="#00ff00"/>
</svg>
</div></body></html>
